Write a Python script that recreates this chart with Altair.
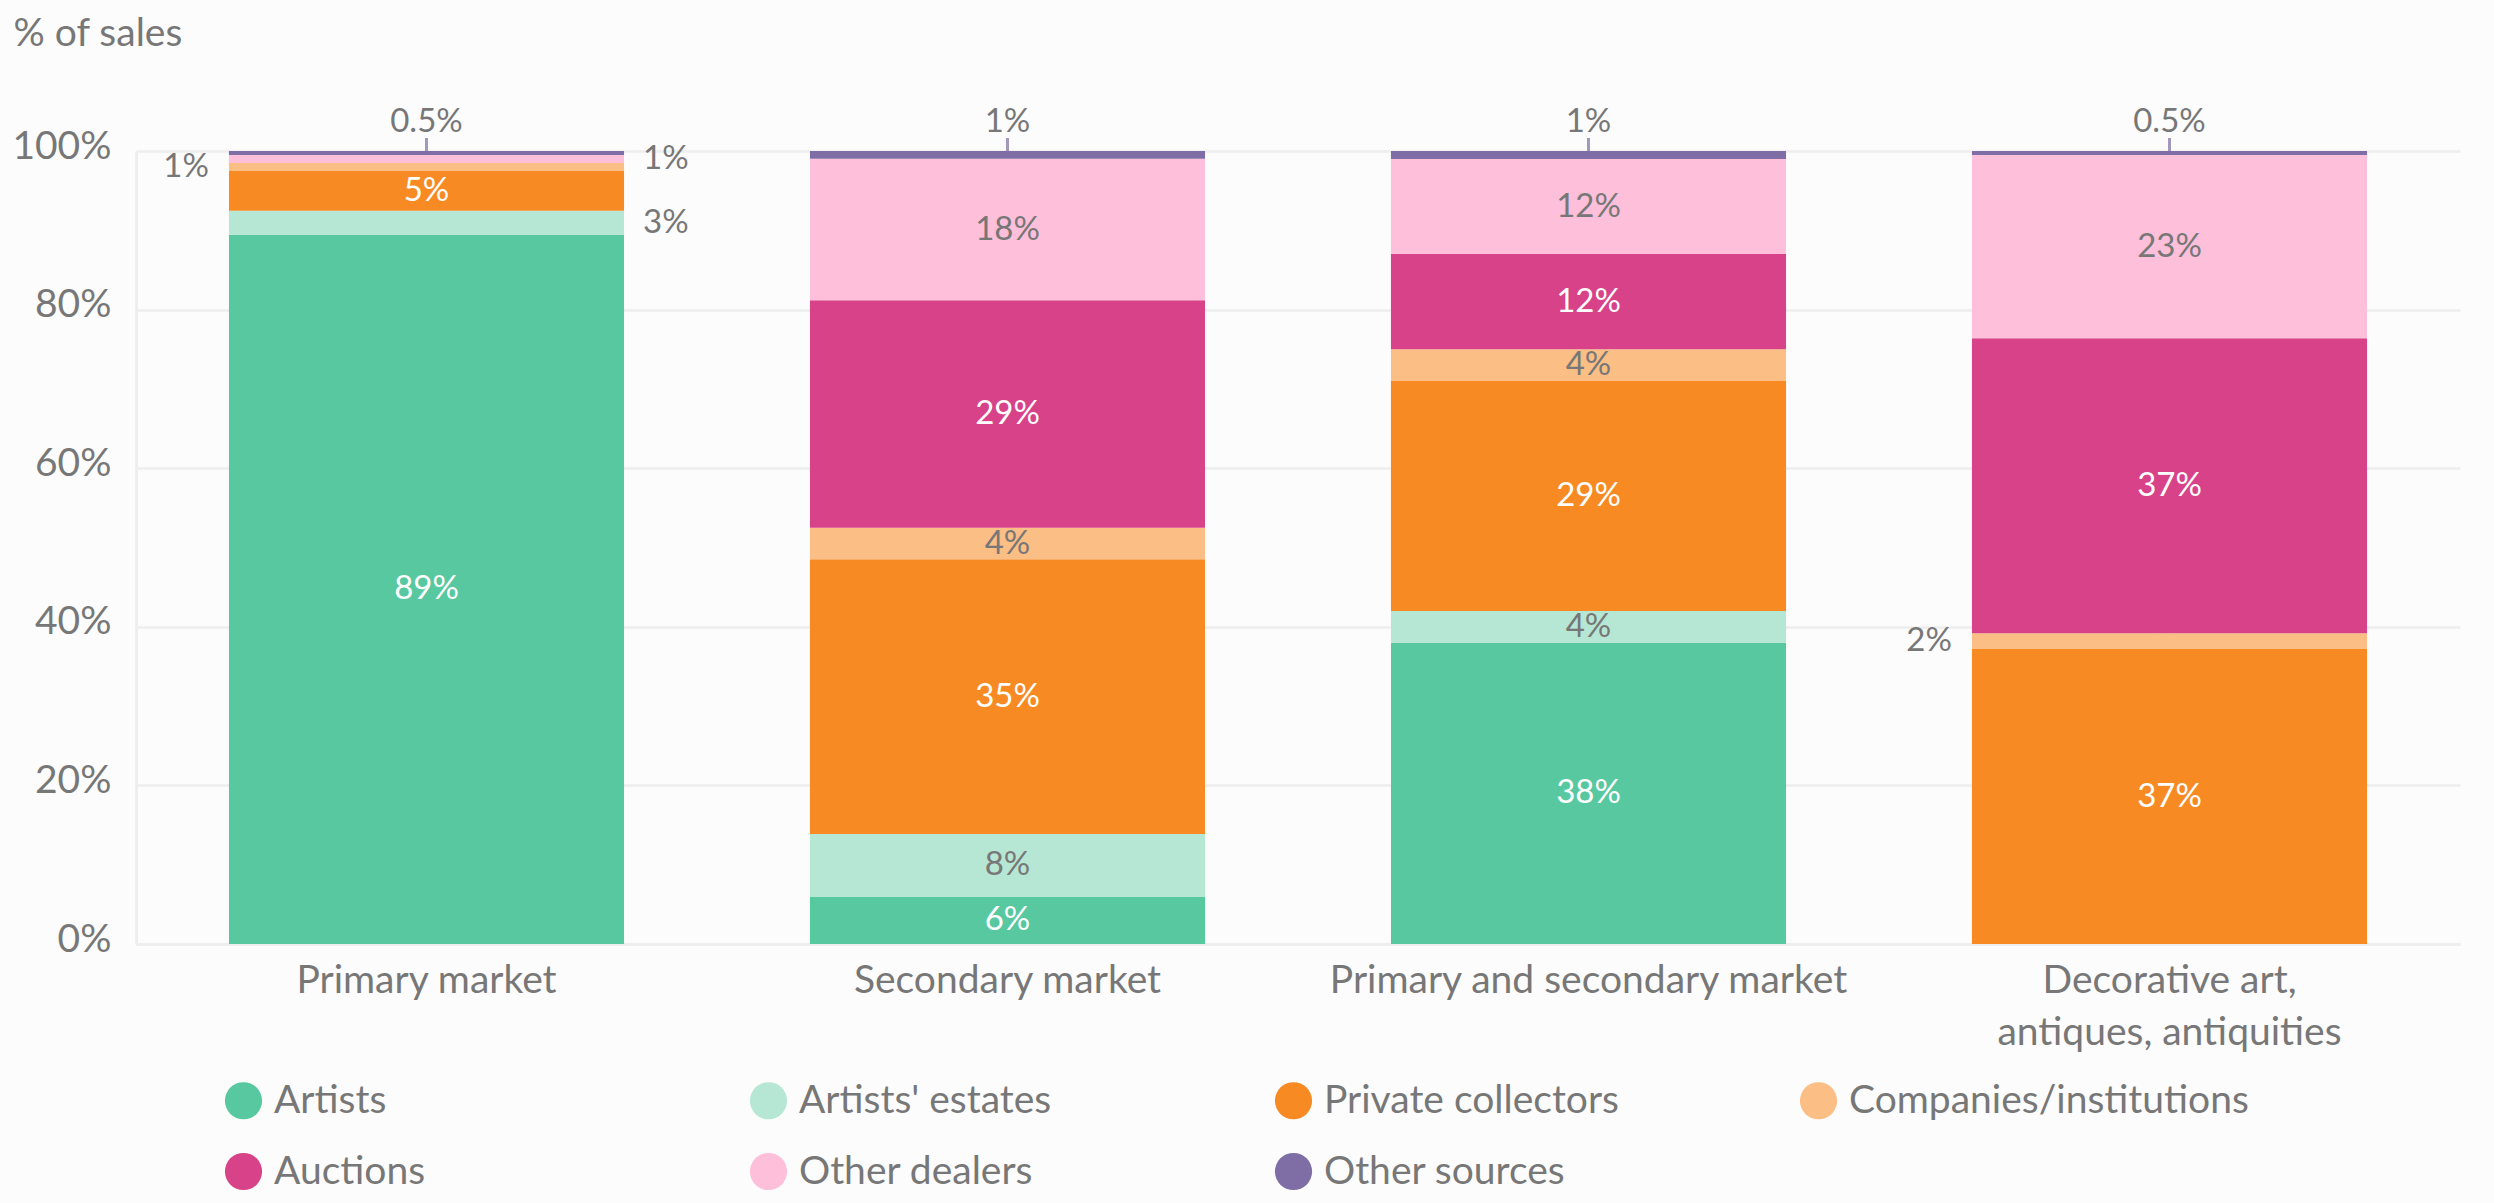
import altair as alt
import pandas as pd

# Categories, sources and shares (% of sales) per market segment
markets = [
    "Primary market",
    "Secondary market",
    "Primary and secondary market",
    "Decorative art,\nantiques, antiquities",
]
sources = [
    "Artists",
    "Artists' estates",
    "Private collectors",
    "Companies/institutions",
    "Auctions",
    "Other dealers",
    "Other sources",
]
colors = ["#57C89F", "#B6E6D4", "#F88A24", "#FBBE85", "#D84289", "#FDBFD9", "#7F6DA5"]

primary = [89, 3, 5, 1, 0, 1, 0.5]
secondary = [6, 8, 35, 4, 29, 18, 1]
primary_secondary = [38, 4, 29, 4, 12, 12, 1]
decorative = [0, 0, 37, 2, 37, 23, 0.5]

rows = []
for market, vals in zip(markets, [primary, secondary, primary_secondary, decorative]):
    for i, (src, v) in enumerate(zip(sources, vals)):
        if v <= 0:
            continue
        # where the value label goes: inside big segments, outside thin ones
        if src == "Other sources":
            place = "top"
        elif v >= 4:
            place = "in"
        elif src == "Companies/institutions":
            place = "left"
        else:
            place = "right"
        rows.append(dict(market=market, source=src, idx=i, value=v,
                         place=place, label=f"{v:g}%"))
df = pd.DataFrame(rows)

FONT = "Lato"
GRAY = "#777777"
GRID = "#EEEEEE"
DARK = ["Artists", "Private collectors", "Auctions"]
LABEL_SIZE = 33

x_scale = alt.Scale(paddingInner=0.32, paddingOuter=0.16)
y_scale = alt.Scale(domain=[0, 1], nice=False)
color_scale = alt.Scale(domain=sources, range=colors)

x_axis = alt.Axis(
    title=None,
    labelAngle=0,
    labelFont=FONT,
    labelFontSize=39,
    labelColor=GRAY,
    labelPadding=17,
    labelLineHeight=52,
    labelLimit=800,
    labelExpr="split(datum.label, '\\n')",
    ticks=False,
    domain=True,
    domainColor=GRID,
    domainWidth=3,
    grid=False,
)
y_axis = alt.Axis(
    values=[0, 0.2, 0.4, 0.6, 0.8, 1.0],
    format=".0%",
    title="% of sales",
    titleAngle=0,
    titleAlign="left",
    titleBaseline="alphabetic",
    titleX=-123,
    titleY=-106,
    titleFont=FONT,
    titleFontSize=39,
    titleFontWeight="normal",
    titleColor=GRAY,
    labelFont=FONT,
    labelFontSize=39,
    labelColor=GRAY,
    labelPadding=25,
    labelOffset=-5,
    ticks=False,
    domain=True,
    domainColor=GRID,
    domainWidth=3,
    grid=True,
    gridColor=GRID,
    gridWidth=2.5,
)


def xpos(band=0.5):
    return alt.X("market:N", sort=markets, scale=x_scale, axis=x_axis, bandPosition=band)


def ypos(field):
    return alt.Y(field, scale=y_scale, axis=y_axis)


base = alt.Chart(df).transform_stack(
    stack="value",
    groupby=["market"],
    as_=["y0", "y1"],
    offset="normalize",
    sort=[alt.SortField("idx", order="ascending")],
).transform_calculate(mid="(datum.y0 + datum.y1) / 2")

bars = base.mark_bar().encode(
    x=alt.X("market:N", sort=markets, scale=x_scale, axis=x_axis),
    y=ypos("y0:Q"),
    y2="y1:Q",
    color=alt.Color(
        "source:N",
        scale=color_scale,
        legend=alt.Legend(
            orient="none",
            legendX=88,
            legendY=930,
            direction="horizontal",
            columns=4,
            title=None,
            symbolType="circle",
            symbolSize=1385,
            symbolStrokeWidth=0,
            symbolOpacity=1,
            labelFont=FONT,
            labelFontSize=39,
            labelColor=GRAY,
            labelOffset=11,
            labelLimit=1000,
            columnPadding=75,
            rowPadding=31,
            gridAlign="all",
            padding=0,
        ),
    ),
)

text_color = alt.condition(
    alt.FieldOneOfPredicate(field="source", oneOf=DARK), alt.value("white"), alt.value(GRAY)
)
tick_color = alt.Color("source:N", scale=color_scale, legend=None)

inside = base.transform_filter("datum.place == 'in'").mark_text(
    font=FONT, fontSize=LABEL_SIZE, baseline="middle"
).encode(x=xpos(), y=ypos("mid:Q"), text="label:N", color=text_color)

right = base.transform_filter("datum.place == 'right'")
right_tick = right.mark_tick(orient="horizontal", size=13, thickness=3, xOffset=6.5).encode(
    x=xpos(1), y=ypos("mid:Q"), color=tick_color
)
right_text = right.mark_text(
    font=FONT, fontSize=LABEL_SIZE, baseline="middle", align="left", dx=19, color=GRAY
).encode(x=xpos(1), y=ypos("mid:Q"), text="label:N")

left = base.transform_filter("datum.place == 'left'")
left_tick = left.mark_tick(orient="horizontal", size=13, thickness=3, xOffset=-6.5).encode(
    x=xpos(0), y=ypos("mid:Q"), color=tick_color
)
left_text = left.mark_text(
    font=FONT, fontSize=LABEL_SIZE, baseline="middle", align="right", dx=-20, color=GRAY
).encode(x=xpos(0), y=ypos("mid:Q"), text="label:N")

top = base.transform_filter("datum.place == 'top'")
top_tick = top.mark_tick(orient="vertical", size=13, thickness=3, yOffset=-6.5).encode(
    x=xpos(), y=ypos("y1:Q"), color=tick_color
)
top_text = top.mark_text(
    font=FONT, fontSize=LABEL_SIZE, baseline="alphabetic", dy=-19, color=GRAY
).encode(x=xpos(), y=ypos("y1:Q"), text="label:N")

chart = (
    alt.layer(bars, inside, right_tick, right_text, left_tick, left_text, top_tick, top_text)
    .properties(
        width=2324,
        height=793,
        background="#FCFCFC",
        autosize=alt.AutoSizeParams(type="none"),
        padding={"left": 136, "top": 151, "right": 34, "bottom": 259},
    )
    .configure_view(strokeWidth=0)
)

chart.save("out.html", embed_options={"renderer": "svg", "actions": False})
